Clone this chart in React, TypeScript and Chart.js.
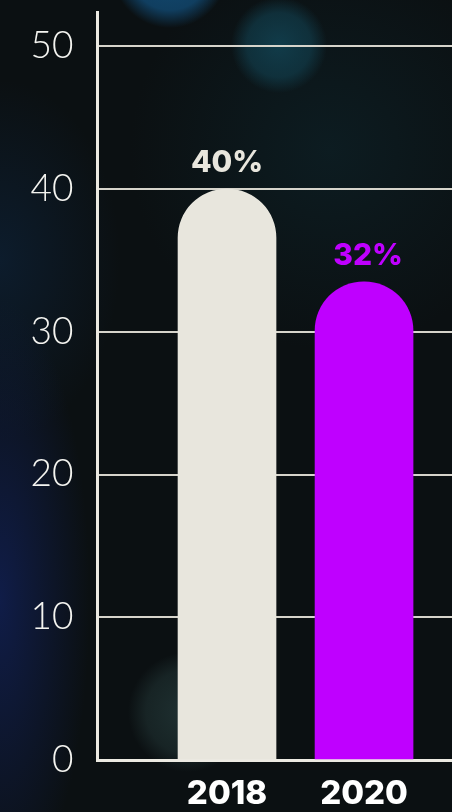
import React, { useEffect, useRef } from "react";
import { Chart, registerables } from "chart.js";

Chart.register(...registerables);

const categories: string[] = ["2018", "2020"];
const values: number[] = [40, 33.5];
const valueLabels: string[] = ["40%", "32%"];
const barColors: string[] = ["#e8e6dd", "#bf00ff"];
const yTicks: number[] = [0, 10, 20, 30, 40, 50];
const X_MIN = 0.0547;
const X_MAX = 2.642;

const valueLabelPlugin = {
  id: "valueLabels",
  afterDatasetsDraw(chart: any) {
    const meta = chart.getDatasetMeta(0);
    const ctx = chart.ctx;
    ctx.save();
    ctx.font = "800 30px Inter, 'Noto Sans', sans-serif";
    ctx.textAlign = "center";
    ctx.textBaseline = "middle";
    meta.data.forEach((el: any, i: number) => {
      ctx.fillStyle = barColors[i];
      ctx.fillText(valueLabels[i], el.x + (i === 1 ? 4 : 0), el.y - 26);
    });
    ctx.restore();
  },
};

export default function App() {
  const ref = useRef<HTMLCanvasElement | null>(null);

  useEffect(() => {
    if (!ref.current) return;
    const chart = new Chart(ref.current, {
      type: "bar",
      data: {
        datasets: [
          {
            data: categories.map((_, i) => ({ x: i + 1, y: values[i] })),
            backgroundColor: barColors,
            borderWidth: 0,
            borderSkipped: "bottom",
            borderRadius: { topLeft: 100, topRight: 100, bottomLeft: 0, bottomRight: 0 },
            barThickness: 98,
          },
        ],
      },
      options: {
        responsive: false,
        animation: false,
        layout: { padding: { top: 12, right: 0, bottom: 0, left: 0 } },
        plugins: {
          legend: { display: false },
          tooltip: { enabled: false },
        },
        scales: {
          x: {
            type: "linear",
            min: X_MIN,
            max: X_MAX,
            offset: false,
            bounds: "data",
            grid: { display: false, drawTicks: false, offset: false },
            border: { display: true, color: "#eceae2", width: 3 },
            afterBuildTicks: (axis: any) => {
              axis.ticks = categories.map((_, i) => ({ value: i + 1 }));
              axis.min = X_MIN;
              axis.max = X_MAX;
            },
            afterFit: (axis: any) => {
              axis.height = 52;
              axis.paddingLeft = 0;
              axis.paddingRight = 0;
            },
            ticks: {
              color: "#ffffff",
              padding: 18,
              autoSkip: false,
              maxRotation: 0,
              font: { family: "Inter, 'Noto Sans', sans-serif", size: 33, weight: 800, lineHeight: 1.0 },
              callback: (v: any) => categories[Math.round(Number(v)) - 1] ?? "",
            },
          },
          y: {
            min: 0,
            max: 52.4,
            afterBuildTicks: (axis: any) => {
              axis.ticks = yTicks.map((v) => ({ value: v }));
            },
            afterFit: (axis: any) => {
              axis.width = 97.5;
              axis.paddingTop = 0;
              axis.paddingBottom = 0;
            },
            grid: { color: "#d6d4cb", lineWidth: 2, drawTicks: false },
            border: { display: true, color: "#eceae2", width: 3 },
            ticks: {
              color: "#f4f4f0",
              padding: 24,
              font: { family: "Lato, Inter, sans-serif", size: 37, weight: 300, lineHeight: 0.5 },
            },
          },
        },
      },
      plugins: [valueLabelPlugin],
    } as any);
    return () => chart.destroy();
  }, []);

  const bg = [
    "radial-gradient(circle at 170px -30px, rgba(18,78,122,0.95) 0px, rgba(18,78,122,0.75) 40px, rgba(18,78,122,0) 58px)",
    "radial-gradient(circle at 279px 45px, rgba(18,66,82,0.85) 0px, rgba(18,66,82,0.6) 32px, rgba(18,66,82,0) 48px)",
    "radial-gradient(ellipse 90px 300px at 0px 600px, rgba(18,34,95,0.7), rgba(18,34,95,0))",
    "radial-gradient(ellipse 120px 180px at 0px 260px, rgba(14,38,66,0.55), rgba(14,38,66,0))",
    "radial-gradient(circle at 188px 712px, rgba(38,60,60,0.75) 0px, rgba(38,60,60,0.45) 42px, rgba(38,60,60,0) 60px)",
    "radial-gradient(ellipse 200px 200px at 330px 150px, rgba(14,40,48,0.5), rgba(14,40,48,0))",
    "#0b1012",
  ].join(",");

  return (
    <div
      style={{
        position: "fixed",
        left: 0,
        top: 0,
        width: 452,
        height: 812,
        background: bg,
        overflow: "hidden",
      }}
    >
      <canvas ref={ref} width={452} height={812} style={{ display: "block" }} />
    </div>
  );
}
